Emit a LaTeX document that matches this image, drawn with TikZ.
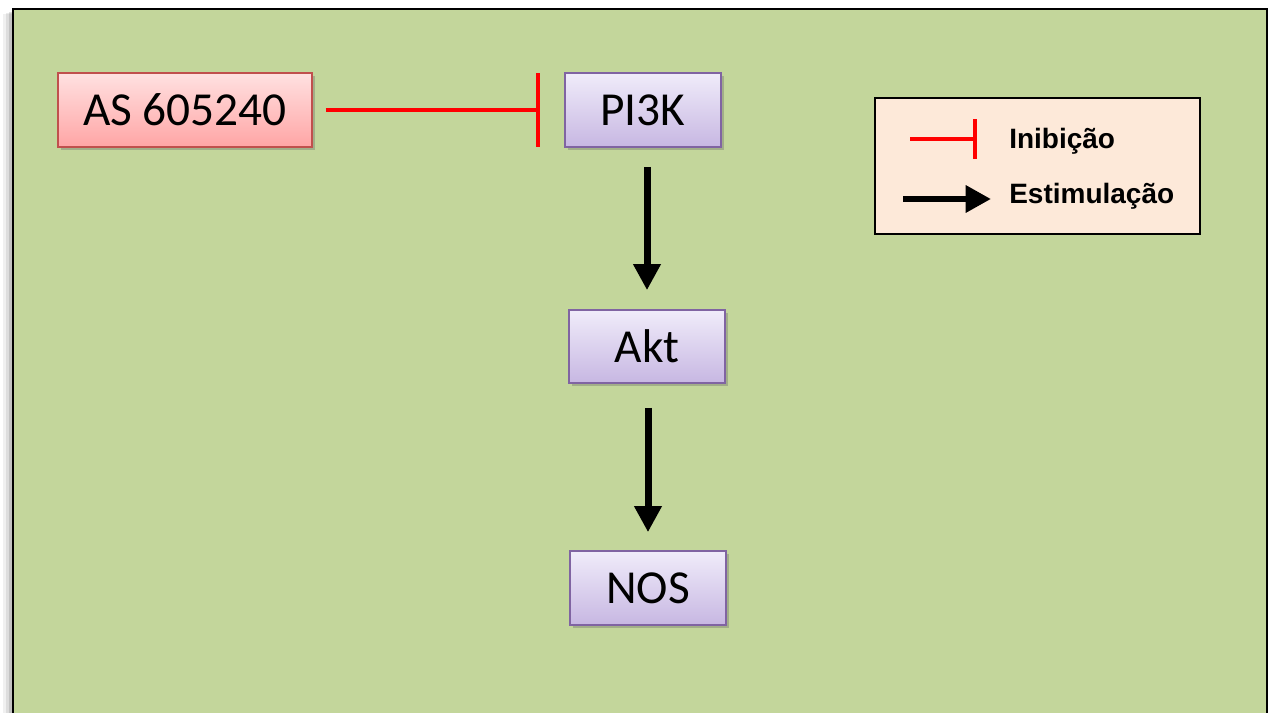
\documentclass[tikz,border=0pt]{standalone}
\usepackage{fontspec}
\setmainfont{Carlito}
\newfontfamily\legfont{Liberation Sans}
\usetikzlibrary{arrows.meta,shadows}
\definecolor{bggreen}{HTML}{C3D69B}
\definecolor{pinktop}{HTML}{FFE1E1}
\definecolor{pinkbot}{HTML}{FFA5A5}
\definecolor{pinkbord}{HTML}{C0504D}
\definecolor{purtop}{HTML}{F0ECFA}
\definecolor{purbot}{HTML}{C7B7E2}
\definecolor{purbord}{HTML}{8064A2}
\definecolor{legfill}{HTML}{FDE9D9}
\tikzset{
  box/.style={draw, line width=1.2pt, inner sep=0pt, minimum height=55.5pt,
    font=\fontsize{35.5}{40}\selectfont,
    drop shadow={shadow xshift=2pt, shadow yshift=-2pt, opacity=0.35, fill=black!60}},
  drugbox/.style={box, draw=pinkbord, top color=pinktop, bottom color=pinkbot},
  protbox/.style={box, draw=purbord, top color=purtop, bottom color=purbot, minimum width=117pt},
  inhib/.style={draw=red, line width=3.2pt, -{Bar[width=55pt]}},
  stim/.style={draw=black, line width=5.25pt, -{Triangle[width=19.5pt,length=19.5pt]}},
  legtext/.style={font=\legfont\bfseries\fontsize{21}{24}\selectfont, anchor=west, inner sep=0pt},
}
\begin{document}
\begin{tikzpicture}[x=0.75pt,y=-0.75pt]
\useasboundingbox (0,0) rectangle (1274,713);
\clip (0,0) rectangle (1274,713);
\fill[white] (0,0) rectangle (1274,713);
% frame shadow
\fill[black, opacity=0.06] (3,14) rectangle (1263,740);
\fill[black, opacity=0.08] (6,13) rectangle (1263,740);
\fill[black, opacity=0.12] (9,12) rectangle (1263,740);
\draw[line width=2pt, fill=bggreen] (13,9) rectangle (1267,740);

\node[drugbox, minimum width=190.5pt] (as) at (185,110) {AS 605240};
\node[protbox] (pi3k) at (643,110) {PI3K};
\node[protbox, minimum height=54.75pt] (akt) at (647,346.5) {Akt};
\node[protbox] (nos) at (648,588) {NOS};

\draw[inhib] ([xshift=9.75pt]as.east) -- ([xshift=-18pt]pi3k.west);
\draw[stim] ([yshift=-14.25pt]pi3k.south -| akt.north) -- ([yshift=14.25pt]akt.north);
\draw[stim] ([yshift=-18pt]akt.south -| nos.north) -- ([yshift=13.5pt]nos.north);

% legend
\node[draw=black, line width=1.2pt, fill=legfill, minimum width=243.75pt, minimum height=102pt, inner sep=0pt] (leg) at (1037.5,166) {};
\coordinate (i1) at (910,139);
\coordinate (i2) at (977,139);
\coordinate (s1) at (903,199);
\coordinate (s2) at (991,199);
\draw[draw=red, line width=3pt, -{Bar[width=29.5pt]}] (i1) -- (i2);
\draw[draw=black, line width=4.8pt, -{Triangle[width=19.5pt,length=19pt]}] (s1) -- (s2);
\node[legtext] (tinib) at (1009,141) {Inibição};
\node[legtext] (testim) at (1009,196) {Estimulação};
\end{tikzpicture}
\end{document}
